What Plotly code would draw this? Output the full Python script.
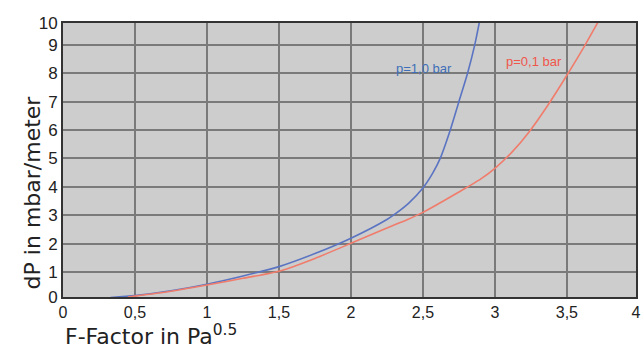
import plotly.graph_objects as go

# Data
blue_x = [0.33, 0.5, 0.75, 1.0, 1.25, 1.5, 1.75, 2.0, 2.25, 2.3, 2.4, 2.5, 2.57, 2.62, 2.69, 2.75, 2.81, 2.86, 2.90]
blue_y = [0.10, 0.17, 0.34, 0.57, 0.86, 1.19, 1.65, 2.19, 2.85, 3.02, 3.42, 3.96, 4.5, 5.0, 6.0, 7.0, 8.0, 9.0, 10.0]
red_x = [0.45, 0.5, 0.75, 1.0, 1.25, 1.5, 1.75, 2.0, 2.25, 2.39, 2.5, 2.75, 2.9, 3.0, 3.12, 3.24, 3.37, 3.5, 3.62, 3.73]
red_y = [0.12, 0.15, 0.32, 0.54, 0.78, 1.03, 1.48, 2.01, 2.55, 2.84, 3.1, 3.82, 4.27, 4.65, 5.23, 5.95, 6.89, 7.93, 8.94, 9.93]

x_tickvals = [0, 0.5, 1, 1.5, 2, 2.5, 3, 3.5, 3.98]
x_ticktext = ["0", "0,5", "1", "1,5", "2", "2,5", "3", "3,5", "4"]
y_tickvals = [0.12, 1, 2, 3, 4, 5, 6, 7, 8, 9, 9.77]
y_ticktext = ["0", "1", "2", "3", "4", "5", "6", "7", "8", "9", "10"]

blue_label = "p=1,0 bar"
red_label = "p=0,1 bar"

fig = go.Figure()
fig.add_trace(go.Scatter(x=blue_x, y=blue_y, mode="lines",
                         line=dict(color="#5b74c2", width=1.6, shape="spline", smoothing=0.6),
                         showlegend=False, hoverinfo="skip"))
fig.add_trace(go.Scatter(x=red_x, y=red_y, mode="lines",
                         line=dict(color="#f07c6c", width=1.6, shape="spline", smoothing=0.6),
                         showlegend=False, hoverinfo="skip"))

font_family = "Liberation Sans, Arial, sans-serif"
title_family = "DejaVu Sans, sans-serif"

fig.update_layout(
    width=641, height=352,
    margin=dict(l=63, r=5, t=23, b=55, autoexpand=False),
    paper_bgcolor="white",
    plot_bgcolor="#cdcdcd",
    font=dict(family=font_family, color="#222222"),
    xaxis=dict(range=[0, 3.98], tickvals=x_tickvals, ticktext=x_ticktext,
               showgrid=True, gridcolor="#7a7a7a", gridwidth=2,
               showline=True, linecolor="#333333", linewidth=2, mirror=True,
               zeroline=False, ticks="", ticklen=0, automargin=False,
               tickfont=dict(size=16, color="#222222", family=font_family)),
    yaxis=dict(range=[0.12, 9.77], tickvals=y_tickvals, ticktext=y_ticktext,
               showgrid=True, gridcolor="#7a7a7a", gridwidth=2,
               showline=True, linecolor="#333333", linewidth=2, mirror=True,
               zeroline=False, ticks="", ticklen=0, automargin=False,
               tickfont=dict(size=17, color="#222222", family=font_family)),
)

fig.add_annotation(x=2.51, y=8.17, xref="x", yref="y", text=blue_label, showarrow=False,
                   font=dict(size=13, color="#3f6fb8", family=font_family))
fig.add_annotation(x=3.27, y=8.4, xref="x", yref="y", text=red_label, showarrow=False,
                   font=dict(size=13, color="#f0554a", family=font_family))

# Axis titles
fig.add_annotation(x=-45 / 573, y=0.38, xref="paper", yref="paper",
                   text="dP in mbar/meter", textangle=-90, showarrow=False,
                   font=dict(size=22, color="#222222", family=title_family))
fig.add_annotation(x=0, y=-0.197, xref="paper", yref="paper", xanchor="left", yanchor="bottom",
                   text="F-Factor in Pa<sup>0.5</sup>", showarrow=False,
                   font=dict(size=22, color="#222222", family=title_family))

fig.write_html("out.html", config={"displayModeBar": False},
               post_script="document.body.style.margin='0';document.body.style.overflow='hidden';")
